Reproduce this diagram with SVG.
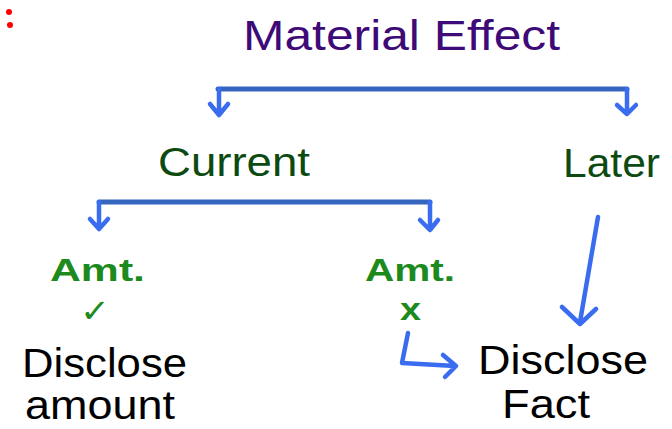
<svg xmlns="http://www.w3.org/2000/svg" width="672" height="429" viewBox="0 0 672 429">
<style>
text{font-family:"Liberation Sans","DejaVu Sans",sans-serif}
.title{fill:#3d0a78;font-size:42px}
.dg{fill:#0d4a12;font-size:40px}
.g{fill:#1d8a1d;font-size:32px;font-weight:bold}
.k{fill:#000;font-size:40px}
.bar{stroke:#3466c0;stroke-width:5;fill:none;stroke-linecap:round}
.arr{stroke:#3a6cf0;stroke-width:4.5;fill:none;stroke-linecap:round;stroke-linejoin:round}
</style>
<rect width="672" height="429" fill="#fff"/>
<g id="mark">
<circle cx="9" cy="12" r="3" fill="#f00"/>
<circle cx="10" cy="25" r="3" fill="#f00"/>
</g>
<g id="connectors">
<path class="bar" d="M218 89 H627"/>
<path class="arr" d="M219 89 V114 M210 104 L219 115 L228 104"/>
<path class="arr" d="M627 89 V113 M617 105 L627 114 L636 105"/>
<path class="bar" d="M99 202 H430"/>
<path class="arr" d="M99 202 V228 M90 219 L99 229 L108 219"/>
<path class="arr" d="M430 202 V229 M420 220 L430 230 L438 220"/>
<path class="arr" d="M598 217 L580 322 M562 307 L580 324 L596 309"/>
<path class="arr" d="M408 333 L402 363 L455 366 M443 355 L456 366 L445 377"/>
</g>
<g id="material-effect"><text class="title" x="243" y="50" textLength="317" lengthAdjust="spacingAndGlyphs">Material Effect</text></g>
<g id="current"><text class="dg" x="158" y="176" textLength="152" lengthAdjust="spacingAndGlyphs">Current</text></g>
<g id="later"><text class="dg" x="563" y="177" textLength="97" lengthAdjust="spacingAndGlyphs">Later</text></g>
<g id="amt-yes">
<text class="g" x="50" y="281" textLength="95" lengthAdjust="spacingAndGlyphs">Amt.</text>
<text class="g" x="80" y="322" font-size="36" textLength="30" lengthAdjust="spacingAndGlyphs">✓</text>
</g>
<g id="amt-no">
<text class="g" x="400" y="320" textLength="21" lengthAdjust="spacingAndGlyphs">x</text>
<text class="g" x="365" y="281" textLength="90" lengthAdjust="spacingAndGlyphs">Amt.</text>
</g>
<g id="disclose-amount">
<text class="k" x="22" y="377" textLength="165" lengthAdjust="spacingAndGlyphs">Disclose</text>
<text class="k" x="25" y="419" font-size="36" textLength="150" lengthAdjust="spacingAndGlyphs">amount</text>
</g>
<g id="disclose-fact">
<text class="k" x="478" y="374" textLength="170" lengthAdjust="spacingAndGlyphs">Disclose</text>
<text class="k" x="502" y="418" textLength="88" lengthAdjust="spacingAndGlyphs">Fact</text>
</g>
</svg>
